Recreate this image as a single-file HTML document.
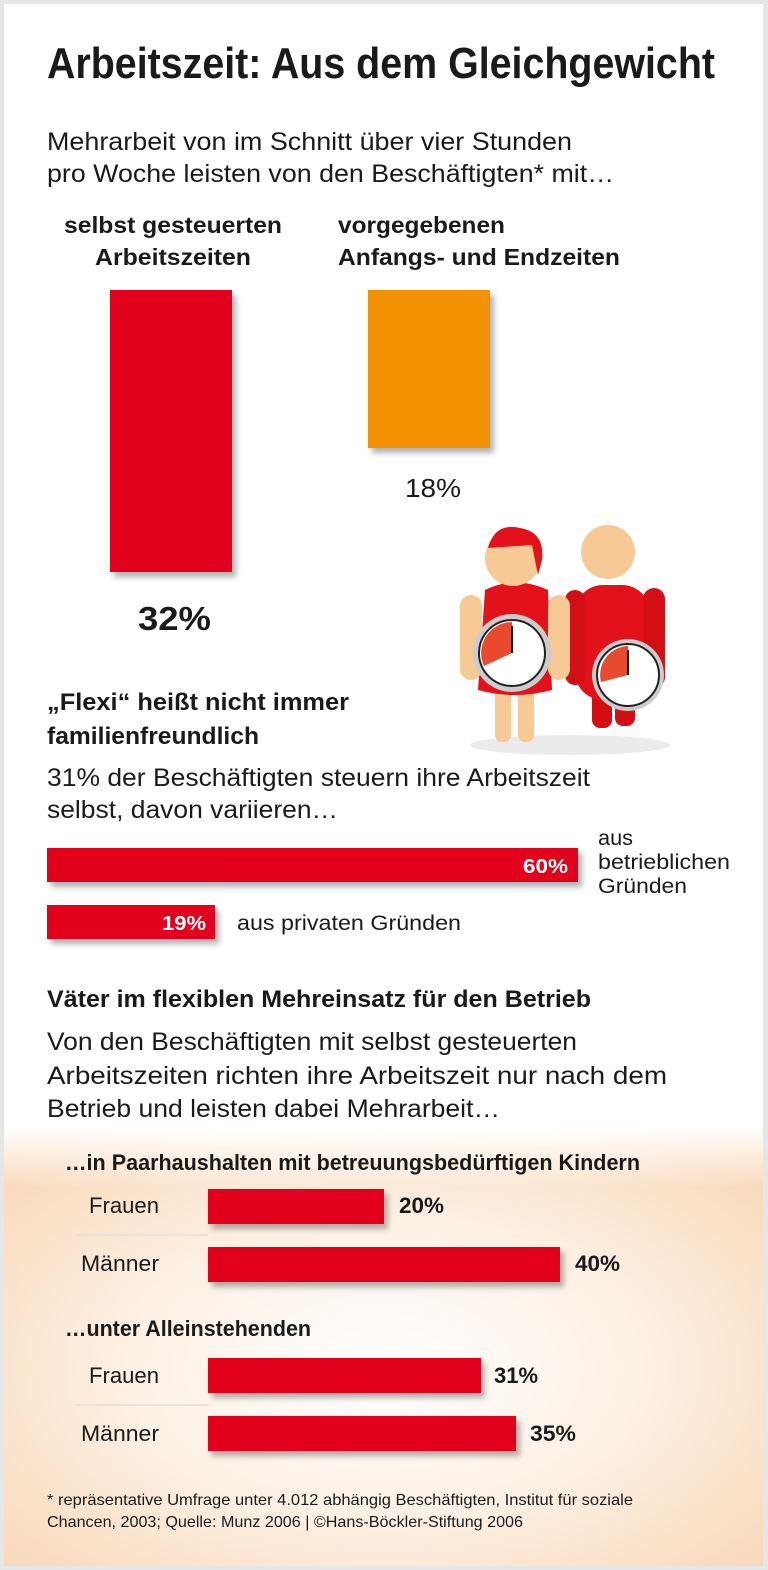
<!DOCTYPE html>
<html><head><meta charset="utf-8"><style>
html,body{margin:0;padding:0;background:#fff}
svg{display:block}
text{font-family:"Liberation Sans",sans-serif;fill:#1a1a1a}
.b{font-weight:bold}
</style></head><body>
<svg width="768" height="1570" viewBox="0 0 768 1570" xmlns="http://www.w3.org/2000/svg">
<defs>
<radialGradient id="peach" cx="0.5" cy="0.55" r="0.75">
<stop offset="0" stop-color="#ffffff"/><stop offset="0.45" stop-color="#fdf0e4"/><stop offset="1" stop-color="#f7d3ae"/>
</radialGradient>
<linearGradient id="fade" x1="0" y1="0" x2="0" y2="1">
<stop offset="0" stop-color="#fff" stop-opacity="1"/><stop offset="1" stop-color="#fff" stop-opacity="0"/>
</linearGradient>
<filter id="sh" x="-20%" y="-20%" width="150%" height="150%"><feDropShadow dx="4" dy="5" stdDeviation="3" flood-color="#000" flood-opacity="0.3"/></filter>
</defs>
<rect x="0" y="0" width="768" height="1570" fill="#e6e6e6"/>
<rect x="4" y="4" width="759" height="1562" fill="#fff"/>
<rect x="4" y="1128" width="759" height="438" fill="url(#peach)"/>
<rect x="4" y="1128" width="759" height="60" fill="url(#fade)"/>

<text x="47" y="78" class="b" font-size="44" textLength="668" lengthAdjust="spacingAndGlyphs">Arbeitszeit: Aus dem Gleichgewicht</text>
<text x="47" y="150" font-size="25" textLength="525" lengthAdjust="spacingAndGlyphs">Mehrarbeit von im Schnitt über vier Stunden</text>
<text x="47" y="182" font-size="25" textLength="567" lengthAdjust="spacingAndGlyphs">pro Woche leisten von den Beschäftigten* mit…</text>
<text x="64" y="233" class="b" font-size="23" textLength="218" lengthAdjust="spacingAndGlyphs">selbst gesteuerten</text>
<text x="95" y="265" class="b" font-size="23" textLength="156" lengthAdjust="spacingAndGlyphs">Arbeitszeiten</text>
<text x="338" y="233" class="b" font-size="23" textLength="167" lengthAdjust="spacingAndGlyphs">vorgegebenen</text>
<text x="338" y="265" class="b" font-size="23" textLength="282" lengthAdjust="spacingAndGlyphs">Anfangs- und Endzeiten</text>

<rect x="110" y="290" width="122" height="282" fill="#e2001a" filter="url(#sh)"/>
<rect x="368" y="290" width="122" height="158" fill="#f39200" filter="url(#sh)"/>
<text x="405" y="497" font-size="26" textLength="56" lengthAdjust="spacingAndGlyphs">18%</text>
<text x="138" y="630" class="b" font-size="33" textLength="73" lengthAdjust="spacingAndGlyphs">32%</text>

<g>
<ellipse cx="570" cy="745" rx="100" ry="10" fill="#000" opacity="0.08"/>
<rect x="592" y="690" width="20" height="38" rx="8" fill="#d40d12"/>
<rect x="615" y="690" width="20" height="36" rx="8" fill="#d40d12"/>
<rect x="575" y="585" width="75" height="115" rx="28" fill="#e3121a"/>
<rect x="565" y="590" width="20" height="95" rx="10" fill="#d10f15"/>
<rect x="643" y="588" width="22" height="100" rx="11" fill="#d10f15"/>
<circle cx="608" cy="552" r="27" fill="#f6c995"/>
<circle cx="628" cy="675" r="36" fill="#ccc"/><circle cx="628" cy="675" r="31" fill="#fff" stroke="#222" stroke-width="2"/>
<path d="M628 675 L628 646 A29 29 0 0 0 601 682 Z" fill="#e84a2e"/>
<line x1="628" y1="675" x2="628" y2="650" stroke="#111" stroke-width="2"/>
<rect x="495" y="680" width="16" height="62" rx="7" fill="#f6c995"/>
<rect x="518" y="680" width="16" height="62" rx="7" fill="#f6c995"/>
<path d="M485 590 Q515 575 548 590 L552 690 Q515 700 478 690 Z" fill="#e3121a"/>
<rect x="460" y="595" width="22" height="85" rx="11" fill="#f6c995"/>
<rect x="548" y="595" width="22" height="85" rx="11" fill="#f6c995"/>
<circle cx="513" cy="558" r="28" fill="#f6c995"/>
<path d="M488 548 Q495 522 520 528 Q545 532 542 560 L538 575 L532 545 L488 548 Z" fill="#e3121a"/>
<circle cx="512" cy="653" r="39" fill="#ccc"/><circle cx="512" cy="653" r="33" fill="#fff" stroke="#222" stroke-width="2"/>
<path d="M512 653 L512 622 A31 31 0 0 0 484 666 Z" fill="#e84a2e"/>
<line x1="512" y1="653" x2="512" y2="626" stroke="#111" stroke-width="2"/>
</g>

<text x="47" y="710" class="b" font-size="24" textLength="302" lengthAdjust="spacingAndGlyphs">„Flexi“ heißt nicht immer</text>
<text x="47" y="744" class="b" font-size="24" textLength="212" lengthAdjust="spacingAndGlyphs">familienfreundlich</text>
<text x="47" y="786" font-size="25" textLength="543" lengthAdjust="spacingAndGlyphs">31% der Beschäftigten steuern ihre Arbeitszeit</text>
<text x="47" y="818" font-size="25" textLength="291" lengthAdjust="spacingAndGlyphs">selbst, davon variieren…</text>

<rect x="47" y="848" width="531" height="34" fill="#e2001a" filter="url(#sh)"/>
<text x="568" y="873" class="b" font-size="20" text-anchor="end" textLength="45" lengthAdjust="spacingAndGlyphs" style="fill:#fff">60%</text>
<text x="598" y="845" font-size="21" textLength="35" lengthAdjust="spacingAndGlyphs">aus</text>
<text x="598" y="869" font-size="21" textLength="132" lengthAdjust="spacingAndGlyphs">betrieblichen</text>
<text x="598" y="893" font-size="21" textLength="89" lengthAdjust="spacingAndGlyphs">Gründen</text>
<rect x="47" y="905" width="168" height="34" fill="#e2001a" filter="url(#sh)"/>
<text x="206" y="930" class="b" font-size="20" text-anchor="end" textLength="44" lengthAdjust="spacingAndGlyphs" style="fill:#fff">19%</text>
<text x="237" y="930" font-size="21" textLength="224" lengthAdjust="spacingAndGlyphs">aus privaten Gründen</text>

<text x="47" y="1007" class="b" font-size="24" textLength="544" lengthAdjust="spacingAndGlyphs">Väter im flexiblen Mehreinsatz für den Betrieb</text>
<text x="47" y="1050" font-size="25" textLength="530" lengthAdjust="spacingAndGlyphs">Von den Beschäftigten mit selbst gesteuerten</text>
<text x="47" y="1084" font-size="25" textLength="620" lengthAdjust="spacingAndGlyphs">Arbeitszeiten richten ihre Arbeitszeit nur nach dem</text>
<text x="47" y="1117" font-size="25" textLength="453" lengthAdjust="spacingAndGlyphs">Betrieb und leisten dabei Mehrarbeit…</text>

<text x="65" y="1170" class="b" font-size="22" textLength="575" lengthAdjust="spacingAndGlyphs">…in Paarhaushalten mit betreuungsbedürftigen Kindern</text>
<line x1="76" y1="1235" x2="208" y2="1235" stroke="#e8e2dc" stroke-width="2"/>
<line x1="76" y1="1405" x2="208" y2="1405" stroke="#e8e2dc" stroke-width="2"/>
<text x="89" y="1213" font-size="22" textLength="70" lengthAdjust="spacingAndGlyphs">Frauen</text>
<rect x="208" y="1189" width="176" height="35" fill="#e2001a" filter="url(#sh)"/>
<text x="399" y="1213" class="b" font-size="22" textLength="45" lengthAdjust="spacingAndGlyphs">20%</text>
<text x="81" y="1271" font-size="22" textLength="78" lengthAdjust="spacingAndGlyphs">Männer</text>
<rect x="208" y="1247" width="352" height="35" fill="#e2001a" filter="url(#sh)"/>
<text x="575" y="1271" class="b" font-size="22" textLength="45" lengthAdjust="spacingAndGlyphs">40%</text>

<text x="65" y="1336" class="b" font-size="22" textLength="246" lengthAdjust="spacingAndGlyphs">…unter Alleinstehenden</text>
<text x="89" y="1383" font-size="22" textLength="70" lengthAdjust="spacingAndGlyphs">Frauen</text>
<rect x="208" y="1358" width="273" height="35" fill="#e2001a" filter="url(#sh)"/>
<text x="494" y="1383" class="b" font-size="22" textLength="44" lengthAdjust="spacingAndGlyphs">31%</text>
<text x="81" y="1441" font-size="22" textLength="78" lengthAdjust="spacingAndGlyphs">Männer</text>
<rect x="208" y="1416" width="308" height="35" fill="#e2001a" filter="url(#sh)"/>
<text x="530" y="1441" class="b" font-size="22" textLength="46" lengthAdjust="spacingAndGlyphs">35%</text>

<text x="47" y="1505" font-size="16" textLength="586" lengthAdjust="spacingAndGlyphs">* repräsentative Umfrage unter 4.012 abhängig Beschäftigten, Institut für soziale</text>
<text x="47" y="1527" font-size="16" textLength="476" lengthAdjust="spacingAndGlyphs">Chancen, 2003; Quelle: Munz 2006 | ©Hans-Böckler-Stiftung 2006</text>
</svg>
</body></html>
